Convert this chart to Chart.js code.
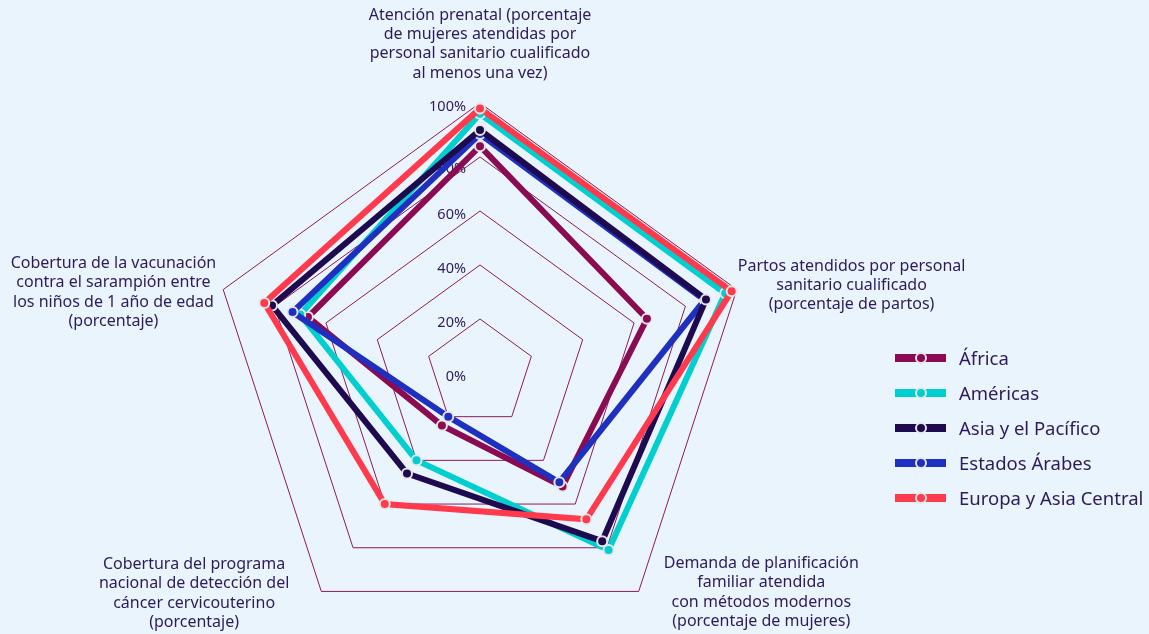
<!DOCTYPE html>
<html lang="es">
<head>
<meta charset="utf-8">
<title>Radar</title>
<script src="https://cdn.jsdelivr.net/npm/chart.js@4.4.1/dist/chart.umd.min.js"></script>
<style>
  html, body { margin: 0; padding: 0; background: #EAF4FD; overflow: hidden; }
  #wrap { position: relative; width: 1149px; height: 634px; }
  #legend { position: absolute; left: 895px; top: 340px; font-family: "Noto Sans", sans-serif; font-size: 18.5px; color: #2D1A5A; }
  .item { display: flex; align-items: center; height: 35px; }
  .sw { position: relative; width: 51px; height: 8px; margin-right: 13px; }
  .sw i { position: absolute; left: 50%; top: 50%; width: 8px; height: 8px; margin: -6px 0 0 -6px; border: 2px solid #e6e6e6; border-radius: 50%; }
</style>
</head>
<body>
<div id="wrap">
  <canvas id="myChart" width="1149" height="634"></canvas>
  <div id="legend"></div>
</div>
<script>
const categories = [
    ['Atención prenatal (porcentaje', 'de mujeres atendidas por', 'personal sanitario cualificado', 'al menos una vez)'],
    ['Partos atendidos por personal', 'sanitario cualificado', '(porcentaje de partos)'],
    ['Demanda de planificación', 'familiar atendida', 'con métodos modernos', '(porcentaje de mujeres)'],
    ['Cobertura del programa', 'nacional de detección del', 'cáncer cervicouterino', '(porcentaje)'],
    ['Cobertura de la vacunación', 'contra el sarampión entre', 'los niños de 1 año de edad', '(porcentaje)']
];

const africa = [84, 65, 52, 24, 67];
const americas = [96, 95.5, 81, 40, 70];
const asiaPacifico = [90, 88, 77, 46, 81];
const estadosArabes = [88.5, 87.5, 50, 20, 73];
const europaAsiaCentral = [98, 98, 67, 60, 84];

const seriesNames = ['África', 'Américas', 'Asia y el Pacífico', 'Estados Árabes', 'Europa y Asia Central'];
const tickValues = [0, 20, 40, 60, 80, 100];

const colors = ['#8A0B52', '#00CFCF', '#1E0A4E', '#1F2FC0', '#FF3A4D'];
// lower number is drawn on top
const drawOrder = [5, 4, 2, 3, 1];
const textColor = '#2D1A5A';
const gridColor = '#8B1A57';

// where each axis title sits relative to its outer vertex
const labelPlace = [
    { align: 'center', dx: 0, dy: -59 },
    { align: 'left', dx: 1, dy: -4 },
    { align: 'left', dx: 25, dy: 1 },
    { align: 'right', dx: -32, dy: 2 },
    { align: 'right', dx: -7, dy: 3 }
];
const lineH = 19.3;

const axisTitles = {
    id: 'axisTitles',
    afterDraw(chart) {
        const s = chart.scales.r;
        const ctx = chart.ctx;
        ctx.save();
        ctx.font = '16px "Noto Sans"';
        ctx.fillStyle = textColor;
        ctx.textAlign = 'center';
        ctx.textBaseline = 'middle';
        categories.forEach((lines, i) => {
            const p = s.getPointPosition(i, s.drawingArea);
            const pl = labelPlace[i];
            const w = Math.max(...lines.map(l => ctx.measureText(l).width));
            let cx = p.x + pl.dx;
            if (pl.align === 'left') cx += w / 2;
            if (pl.align === 'right') cx -= w / 2;
            const top = p.y + pl.dy - (lines.length - 1) * lineH / 2;
            lines.forEach((l, k) => ctx.fillText(l, cx, top + k * lineH));
        });
        ctx.restore();
    }
};

const tickLabels = {
    id: 'tickLabels',
    beforeDatasetsDraw(chart) {
        const s = chart.scales.r;
        const ctx = chart.ctx;
        ctx.save();
        ctx.font = '14.5px "Noto Sans"';
        ctx.fillStyle = textColor;
        ctx.textAlign = 'right';
        ctx.textBaseline = 'middle';
        s.ticks.forEach(t => {
            const p = s.getPointPositionForValue(0, t.value);
            // the 80% label sits a little lower in the original
            const shift = t.value === 80 ? 12 : 4;
            ctx.fillText(t.label, p.x - 14, p.y + shift);
        });
        ctx.restore();
    }
};

const values = [africa, americas, asiaPacifico, estadosArabes, europaAsiaCentral];

const ctx = document.getElementById('myChart').getContext('2d');

const config = {
    type: 'radar',
    data: {
        labels: categories,
        datasets: values.map((v, i) => ({
            label: seriesNames[i],
            data: v,
            borderColor: colors[i],
            backgroundColor: colors[i],
            borderWidth: 6,
            fill: false,
            pointRadius: 5,
            pointBorderWidth: 2,
            pointBackgroundColor: colors[i],
            pointBorderColor: '#e6e6e6',
            order: drawOrder[i]
        }))
    },
    options: {
        responsive: false,
        animation: false,
        scales: {
            r: {
                min: 0,
                max: 100,
                afterBuildTicks: (s) => { s.ticks = tickValues.map(v => ({ value: v })); },
                ticks: {
                    display: false,
                    callback: (v) => v + '%'
                },
                grid: {
                    color: gridColor,
                    lineWidth: 1
                },
                angleLines: { display: false },
                pointLabels: { display: false },
                afterFit: (s) => {
                    s.xCenter = 480;
                    s.yCenter = 373;
                    s.drawingArea = 270;
                }
            }
        },
        plugins: {
            legend: { display: false },
            tooltip: { enabled: false }
        }
    },
    plugins: [tickLabels, axisTitles]
};

let myChart = new Chart(ctx, config);

// legend
const legend = document.getElementById('legend');
seriesNames.forEach((name, i) => {
    const row = document.createElement('div');
    row.className = 'item';
    row.innerHTML = '<span class="sw" style="background:' + colors[i] + '"><i style="background:' + colors[i] + '"></i></span>' + name;
    legend.appendChild(row);
});
</script>
</body>
</html>
